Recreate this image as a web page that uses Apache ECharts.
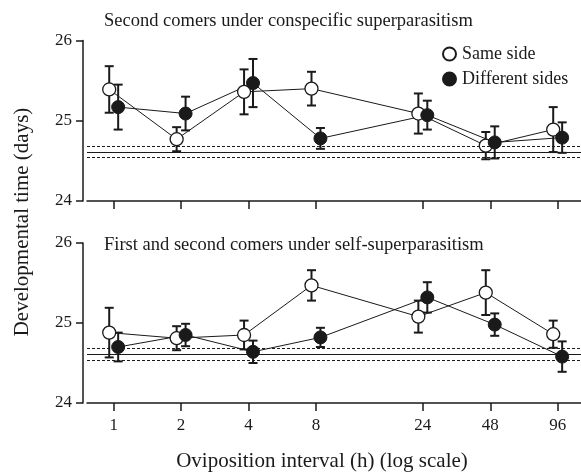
<!DOCTYPE html>
<html>
<head>
<meta charset="utf-8">
<script src="https://cdn.jsdelivr.net/npm/echarts@6/dist/echarts.min.js"></script>
<style>
  html, body { margin: 0; padding: 0; background: #fff; }
  #chart { width: 581px; height: 472px; }
</style>
</head>
<body>
<div id="chart"></div>
<script>
  // oviposition interval (h)
  const hours = [1, 2, 4, 8, 24, 48, 96]

  // panel 1: second comers under conspecific superparasitism
  const consSameMean = [25.39, 24.77, 25.36, 25.40, 25.09, 24.69, 24.89]
  const consSameErr  = [0.29, 0.15, 0.28, 0.21, 0.25, 0.17, 0.28]
  const consDiffMean = [25.17, 25.09, 25.47, 24.78, 25.07, 24.73, 24.79]
  const consDiffErr  = [0.28, 0.21, 0.30, 0.13, 0.18, 0.20, 0.19]

  // panel 2: first and second comers under self-superparasitism
  const selfSameMean = [24.88, 24.81, 24.85, 25.47, 25.08, 25.38, 24.86]
  const selfSameErr  = [0.31, 0.15, 0.18, 0.19, 0.20, 0.28, 0.17]
  const selfDiffMean = [24.70, 24.85, 24.64, 24.82, 25.32, 24.98, 24.58]
  const selfDiffErr  = [0.18, 0.14, 0.14, 0.12, 0.19, 0.14, 0.19]

  // reference (control) mean and its interval
  const refMean = 24.61
  const refBand = [24.54, 24.68]

  const yTicks = [24, 25, 26]
  const panelTitles = [
    'Second comers under conspecific superparasitism',
    'First and second comers under self-superparasitism'
  ]

  const FONT = '"Liberation Serif", "DejaVu Serif", serif'
  const INK = '#1a1a1a'
  // small horizontal dodge so open/filled points don't overlap
  const dodgeSame = 0.955
  const dodgeDiff = 1.047

  const chart = echarts.init(document.getElementById('chart'))

  function pts(means, dodge) {
    return hours.map((h, i) => [h * dodge, means[i]])
  }
  function bars(means, errs, dodge) {
    return hours.map((h, i) => [h * dodge, means[i] - errs[i], means[i] + errs[i]])
  }

  function errSeries(idx, means, errs, dodge) {
    return {
      type: 'custom',
      xAxisIndex: idx, yAxisIndex: idx,
      z: 1, silent: true,
      data: bars(means, errs, dodge),
      encode: { x: 0, y: [1, 2] },
      renderItem: (params, api) => {
        const x = api.value(0)
        const top = api.coord([x, api.value(2)])
        const bot = api.coord([x, api.value(1)])
        const w = 4.5
        const st = { stroke: INK, lineWidth: 2 }
        return {
          type: 'group',
          children: [
            { type: 'line', shape: { x1: top[0], y1: top[1], x2: bot[0], y2: bot[1] }, style: st },
            { type: 'line', shape: { x1: top[0] - w, y1: top[1], x2: top[0] + w, y2: top[1] }, style: st },
            { type: 'line', shape: { x1: bot[0] - w, y1: bot[1], x2: bot[0] + w, y2: bot[1] }, style: st }
          ]
        }
      }
    }
  }

  function lineSeries(idx, name, means, dodge, open, withRef) {
    const s = {
      type: 'line', name: name,
      xAxisIndex: idx, yAxisIndex: idx,
      z: 3,
      data: pts(means, dodge),
      symbol: 'circle', symbolSize: 13,
      lineStyle: { color: INK, width: 1 },
      itemStyle: open
        ? { color: '#fff', borderColor: INK, borderWidth: 1.3 }
        : { color: INK, borderColor: INK, borderWidth: 1 },
      animation: false
    }
    if (withRef) {
      s.markLine = {
        silent: true, symbol: 'none', label: { show: false },
        data: [
          { yAxis: refMean, lineStyle: { color: INK, width: 1, type: 'solid' } },
          { yAxis: refBand[0], lineStyle: { color: INK, width: 1, type: [3, 2] } },
          { yAxis: refBand[1], lineStyle: { color: INK, width: 1, type: [3, 2] } }
        ]
      }
    }
    return s
  }

  function xAxis(idx, showLabels) {
    return {
      type: 'log', logBase: 2, gridIndex: idx,
      min: 0.76, max: 122,
      axisLine: { lineStyle: { color: INK, width: 1.5 } },
      axisTick: { show: true, length: 8, lineStyle: { color: INK, width: 1.5 }, customValues: hours },
      axisLabel: {
        show: showLabels, customValues: hours, margin: 14,
        fontFamily: FONT, fontSize: 17, color: INK,
        formatter: v => String(Math.round(v))
      },
      minorTick: { show: false },
      splitLine: { show: false }
    }
  }

  function yAxis(idx) {
    return {
      type: 'value', gridIndex: idx,
      min: 24, max: 26, interval: 1,
      offset: 4,
      axisLine: { show: true, lineStyle: { color: INK, width: 1.5 } },
      axisTick: { show: true, length: 7, lineStyle: { color: INK, width: 1.5 } },
      axisLabel: {
        margin: 11, fontFamily: FONT, fontSize: 17, color: INK,
        formatter: v => yTicks.includes(v) ? String(v) : ''
      },
      splitLine: { show: false }
    }
  }

  const option = {
    backgroundColor: '#fff',
    animation: false,
    textStyle: { fontFamily: FONT },
    grid: [
      { left: 87, right: 0, top: 40.5, height: 160.5 },
      { left: 87, right: 0, top: 243, height: 160 }
    ],
    xAxis: [xAxis(0, false), xAxis(1, true)],
    yAxis: [yAxis(0), yAxis(1)],
    legend: {
      data: ['Same side', 'Different sides'],
      orient: 'vertical',
      left: 437, top: 40,
      icon: 'circle',
      itemWidth: 13, itemHeight: 13, itemGap: 7,
      textStyle: { fontFamily: FONT, fontSize: 18, color: INK, padding: [0, 0, 0, 1] }
    },
    graphic: [
      { type: 'text', left: 104, top: 12, style: { text: panelTitles[0], font: '18.5px ' + FONT, fill: INK } },
      { type: 'text', left: 104, top: 236, style: { text: panelTitles[1], font: '18.5px ' + FONT, fill: INK } },
      {
        type: 'text', x: 22, y: 222, rotation: Math.PI / 2,
        style: { text: 'Developmental time (days)', font: '21px ' + FONT, fill: INK, align: 'center', verticalAlign: 'middle' }
      },
      {
        type: 'text', x: 322, y: 461,
        style: { text: 'Oviposition interval (h) (log scale)', font: '21px ' + FONT, fill: INK, align: 'center', verticalAlign: 'middle' }
      }
    ],
    series: [
      errSeries(0, consSameMean, consSameErr, dodgeSame),
      errSeries(0, consDiffMean, consDiffErr, dodgeDiff),
      lineSeries(0, 'Same side', consSameMean, dodgeSame, true, true),
      lineSeries(0, 'Different sides', consDiffMean, dodgeDiff, false, false),
      errSeries(1, selfSameMean, selfSameErr, dodgeSame),
      errSeries(1, selfDiffMean, selfDiffErr, dodgeDiff),
      lineSeries(1, 'Same side', selfSameMean, dodgeSame, true, true),
      lineSeries(1, 'Different sides', selfDiffMean, dodgeDiff, false, false)
    ]
  }

  chart.setOption(option)
</script>
</body>
</html>
